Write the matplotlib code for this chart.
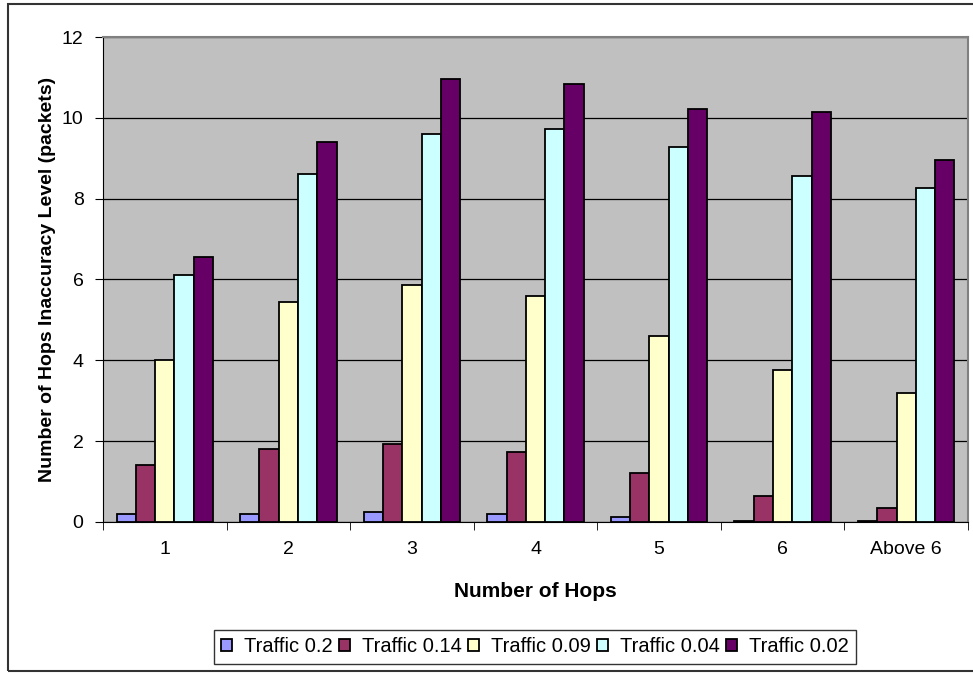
import numpy as np
import matplotlib.pyplot as plt
from matplotlib.patches import Rectangle

plt.rcParams['font.family'] = ['Liberation Sans', 'DejaVu Sans']

# hop-count groups and the traffic levels
categories = ['1', '2', '3', '4', '5', '6', 'Above 6']
series_names = ['Traffic 0.2', 'Traffic 0.14', 'Traffic 0.09', 'Traffic 0.04', 'Traffic 0.02']
traffic_02 = [0.20, 0.20, 0.25, 0.20, 0.12, 0.03, 0.03]
traffic_014 = [1.40, 1.80, 1.92, 1.72, 1.20, 0.65, 0.35]
traffic_009 = [4.00, 5.45, 5.87, 5.60, 4.60, 3.75, 3.20]
traffic_004 = [6.10, 8.60, 9.60, 9.72, 9.27, 8.55, 8.27]
traffic_002 = [6.55, 9.40, 10.95, 10.83, 10.23, 10.15, 8.95]
colors = ['#9999FF', '#993366', '#FFFFCC', '#CCFFFF', '#660066']

series = [traffic_02, traffic_014, traffic_009, traffic_004, traffic_002]

fig = plt.figure(figsize=(9.73, 6.73), dpi=100)
ax = fig.add_axes([0.1059, 0.2244, 0.8890, 0.7206])

# outer chart frame
fig.patches.append(Rectangle((8 / 973, 2 / 673), 1.0, 667 / 673, transform=fig.transFigure,
                             fill=False, edgecolor='#333333', linewidth=1.5))

x = np.arange(len(categories))
w = 0.156
for i, (vals, name, c) in enumerate(zip(series, series_names, colors)):
    ax.bar(x + (i - 2) * w, vals, width=w, color=c, edgecolor='black',
           linewidth=1.3, label=name, zorder=3)

ax.set_facecolor('#C0C0C0')
ax.set_xlim(-0.5, len(categories) - 0.5)
ax.set_ylim(0, 12)
ax.set_yticks(np.arange(0, 13, 2))
ax.yaxis.grid(True, color='black', linewidth=0.9, zorder=0)
ax.set_axisbelow(True)

ax.set_xticks(x)
ax.set_xticklabels(categories, fontsize=14)
ax.set_xticks(np.arange(-0.5, len(categories)), minor=True)
ax.tick_params(axis='x', which='major', length=0, pad=14)
ax.tick_params(axis='x', which='minor', length=6, color='black')
ax.tick_params(axis='y', labelsize=14, length=6, pad=8)

for s in ['top', 'right']:
    ax.spines[s].set_color('#808080')
    ax.spines[s].set_linewidth(1.5)
for s in ['left', 'bottom']:
    ax.spines[s].set_color('black')

ax.set_xlabel('Number of Hops', fontsize=15, fontweight='bold', labelpad=17)
ax.set_ylabel('Number of Hops Inaccuracy Level (packets)', fontsize=14,
              fontweight='bold', labelpad=4)

leg = fig.legend(loc='center', bbox_to_anchor=(535 / 973, 1 - 647 / 673), ncol=5,
                 fontsize=14.5, frameon=True, fancybox=False, edgecolor='black',
                 handlelength=0.55, handleheight=0.55, handletextpad=0.6,
                 columnspacing=0.3, borderpad=0.35, borderaxespad=0)
leg.get_frame().set_linewidth(1.0)

fig.savefig('out.png', dpi=100)
